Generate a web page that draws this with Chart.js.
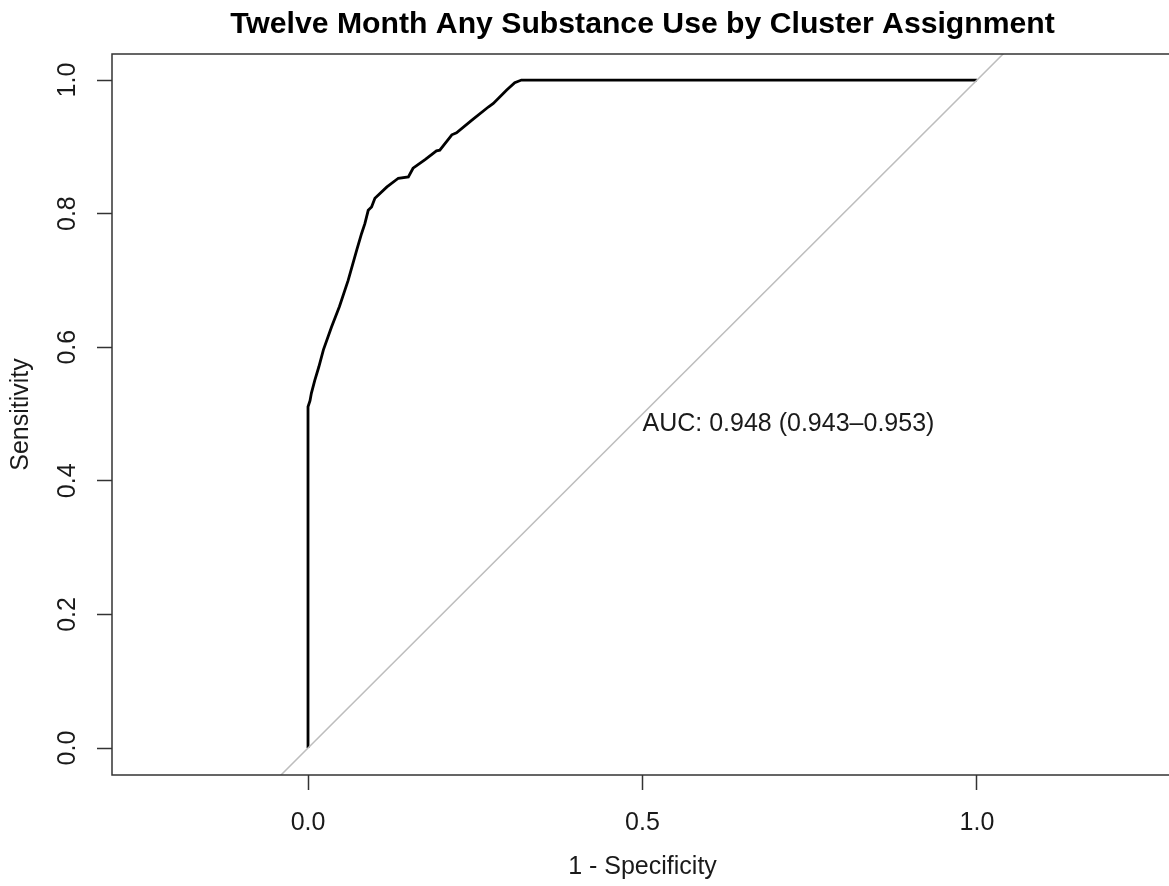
<!DOCTYPE html>
<html>
<head>
<meta charset="utf-8">
<script src="https://cdn.jsdelivr.net/npm/chart.js@4.4.1/dist/chart.umd.min.js"></script>
<style>
  html, body { margin: 0; padding: 0; background: #fff; overflow: hidden; }
  #wrap { width: 1169px; height: 886px; overflow: hidden; }
</style>
</head>
<body>
<div id="wrap"><canvas id="roc" width="1284" height="886"></canvas></div>
<script>
// ======================
// DATA
// ======================
const titleText = "Twelve Month Any Substance Use by Cluster Assignment";

// 1 - specificity (x) and sensitivity (y)
const rocFpr = [0, 0, 0.003, 0.005, 0.010, 0.016, 0.023, 0.035, 0.047, 0.060, 0.073, 0.080, 0.085, 0.090, 0.095, 0.100, 0.118, 0.135, 0.150, 0.157, 0.175, 0.192, 0.197, 0.215, 0.222, 0.245, 0.270, 0.277, 0.297, 0.309, 0.319, 1.0];
const rocTpr = [0, 0.511, 0.520, 0.531, 0.550, 0.570, 0.596, 0.630, 0.661, 0.700, 0.746, 0.770, 0.785, 0.805, 0.810, 0.823, 0.840, 0.853, 0.855, 0.868, 0.881, 0.894, 0.895, 0.918, 0.921, 0.940, 0.960, 0.965, 0.985, 0.996, 1.0, 1.0];

// chance line
const identityX = [-0.2, 1.3];
const identityY = [-0.2, 1.3];

const xTicks = [0, 0.5, 1.0];
const yTicks = [0, 0.2, 0.4, 0.6, 0.8, 1.0];

const aucLabel = "AUC: 0.948 (0.943\u20130.953)";
const aucX = 0.5;
const aucY = 0.485;

const FONT = '"Liberation Sans", Arial, Helvetica, sans-serif';

// ======================
// R STYLE FRAME + TEXT
// ======================
const rPlot = {
  id: "rPlot",
  afterDraw(chart) {
    const { ctx, chartArea: a, scales } = chart;
    ctx.save();

    ctx.strokeStyle = "#333";
    ctx.lineWidth = 1.5;
    ctx.strokeRect(a.left, a.top, a.right - a.left, a.bottom - a.top);

    ctx.fillStyle = "#1a1a1a";
    ctx.font = "25px " + FONT;
    ctx.textAlign = "center";
    ctx.textBaseline = "middle";
    yTicks.forEach(v => {
      const py = scales.y.getPixelForValue(v);
      ctx.save();
      ctx.translate(a.left - 44, py);
      ctx.rotate(-Math.PI / 2);
      ctx.fillText(v.toFixed(1), 0, 0);
      ctx.restore();
    });

    ctx.textAlign = "left";
    ctx.fillText(
      aucLabel,
      scales.x.getPixelForValue(aucX),
      scales.y.getPixelForValue(aucY)
    );

    ctx.fillStyle = "#000";
    ctx.font = "bold 30.2px " + FONT;
    ctx.textAlign = "center";
    ctx.fillText(titleText, (a.left + a.right) / 2, 25);

    ctx.restore();
  }
};

// ======================
// CHART
// ======================
const ctx = document.getElementById("roc").getContext("2d");

new Chart(ctx, {
  type: "line",
  data: {
    datasets: [
      {
        label: "identity",
        data: identityX.map((x, i) => ({ x: x, y: identityY[i] })),
        borderColor: "#bdbdbd",
        borderWidth: 1.5,
        pointRadius: 0,
        clip: 0
      },
      {
        label: "ROC",
        data: rocFpr.map((x, i) => ({ x: x, y: rocTpr[i] })),
        borderColor: "#000",
        borderWidth: 2.8,
        pointRadius: 0,
        tension: 0
      }
    ]
  },
  options: {
    responsive: false,
    animation: false,
    layout: { padding: { top: 54, right: 111, left: 0, bottom: 0 } },
    plugins: {
      legend: { display: false },
      tooltip: { enabled: false },
      title: { display: false }
    },
    scales: {
      x: {
        type: "linear",
        min: -0.293,
        max: 1.293,
        afterBuildTicks: s => { s.ticks = xTicks.map(v => ({ value: v })); },
        afterFit: s => { s.height = 111; },
        ticks: {
          autoSkip: false,
          maxRotation: 0,
          padding: 18,
          color: "#1a1a1a",
          font: { family: FONT, size: 25 },
          callback: v => Number(v).toFixed(1)
        },
        grid: {
          drawOnChartArea: false,
          drawTicks: true,
          tickLength: 15,
          tickColor: "#333",
          tickWidth: 1.5
        },
        border: { display: false },
        title: {
          display: true,
          text: "1 - Specificity",
          color: "#1a1a1a",
          font: { family: FONT, size: 25 },
          padding: { top: 0, bottom: 4 }
        }
      },
      y: {
        type: "linear",
        min: -0.0404,
        max: 1.039,
        afterBuildTicks: s => { s.ticks = yTicks.map(v => ({ value: v })); },
        afterFit: s => { s.width = 112; },
        ticks: { display: false },
        grid: {
          drawOnChartArea: false,
          drawTicks: true,
          tickLength: 15,
          tickColor: "#333",
          tickWidth: 1.5
        },
        border: { display: false },
        title: {
          display: true,
          text: "Sensitivity",
          color: "#1a1a1a",
          font: { family: FONT, size: 25 },
          padding: { top: 6, bottom: 0 }
        }
      }
    }
  },
  plugins: [rPlot]
});
</script>
</body>
</html>
